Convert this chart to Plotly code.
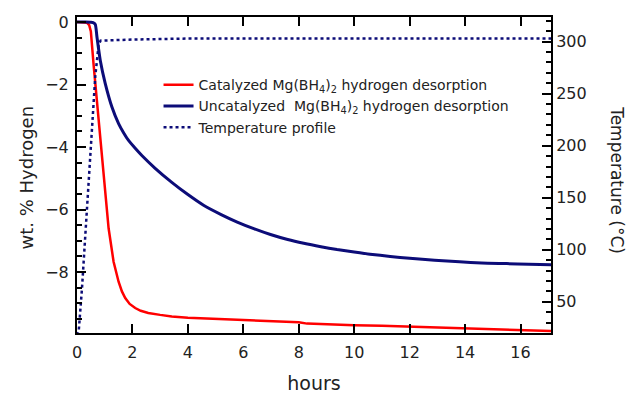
import plotly.graph_objects as go

# Catalyzed Mg(BH4)2 (wt. % H vs hours)
cat_t = [0, 0.2, 0.36, 0.44, 0.50, 0.60, 0.66, 0.72, 0.78, 0.84, 0.96, 1.0, 1.14, 1.32, 1.5, 1.62,
         1.74, 1.9, 2.1, 2.3, 2.57, 3.0, 3.42, 4, 5, 6, 7, 8, 8.3, 9, 10, 11, 12, 13, 14, 15, 16, 17, 17.1]
cat_v = [0, 0, -0.02, -0.1, -0.3, -1.38, -1.95, -2.5, -3.2, -3.83, -4.96, -5.31, -6.6, -7.67, -8.31,
         -8.62, -8.83, -9.02, -9.15, -9.24, -9.31, -9.37, -9.42, -9.46, -9.50, -9.54, -9.58, -9.61,
         -9.65, -9.68, -9.70, -9.72, -9.75, -9.78, -9.82, -9.84, -9.86, -9.89, -9.89]

# Uncatalyzed Mg(BH4)2
unc_t = [0, 0.3, 0.48, 0.58, 0.66, 0.72, 0.84, 1.02, 1.26, 1.5, 1.68, 1.86, 2.1, 2.34, 2.82, 3.42,
         4.0, 4.58, 5.2, 5.78, 6.4, 6.98, 7.6, 8.18, 8.8, 9.38, 10.0, 10.57, 11.3, 12.0, 12.9, 13.8,
         14.6, 15.5, 16.3, 17.1]
unc_v = [0, 0, -0.01, -0.02, -0.08, -0.48, -1.23, -1.97, -2.72, -3.25, -3.54, -3.79, -4.04, -4.27,
         -4.68, -5.13, -5.52, -5.87, -6.16, -6.4, -6.62, -6.8, -6.96, -7.08, -7.19, -7.28, -7.36,
         -7.43, -7.5, -7.56, -7.62, -7.67, -7.71, -7.73, -7.75, -7.77]

# Temperature profile (°C)
temp_t = [0, 0.06, 0.18, 0.30, 0.42, 0.54, 0.66, 0.78, 0.85, 2, 4, 6, 8, 10, 12, 14, 16, 17.1]
temp_v = [18, 21, 63, 117, 171, 219, 267, 297, 301, 302, 303, 303, 303, 303, 303, 303, 303, 303]

x_ticks = [0, 2, 4, 6, 8, 10, 12, 14, 16]
y_ticks = [0, -2, -4, -6, -8]
y2_ticks = [50, 100, 150, 200, 250, 300]

RED = "#ff0000"
NAVY = "#0c0c78"
FONT = "DejaVu Sans, Arial, sans-serif"
TXT = "#222"

fig = go.Figure()
fig.add_trace(go.Scatter(
    x=cat_t, y=cat_v, mode="lines", line=dict(color=RED, width=2.5),
    name="Catalyzed Mg(BH<sub>4</sub>)<sub>2</sub> hydrogen desorption"))
fig.add_trace(go.Scatter(
    x=unc_t, y=unc_v, mode="lines", line=dict(color=NAVY, width=3, shape="spline", smoothing=0.6),
    name="Uncatalyzed&nbsp; Mg(BH<sub>4</sub>)<sub>2</sub> hydrogen desorption"))
fig.add_trace(go.Scatter(
    x=temp_t, y=temp_v, mode="lines", yaxis="y2", line=dict(color=NAVY, width=2.5, dash="dot"),
    name="Temperature profile"))

axis_common = dict(showline=True, linecolor="black", linewidth=2, ticks="inside",
                   tickcolor="black", tickwidth=1.5, ticklen=9, showgrid=False, zeroline=False,
                   automargin=False, tickfont=dict(family=FONT, size=16, color=TXT))

fig.update_layout(
    width=629, height=394,
    margin=dict(l=77, r=78, t=17, b=61),
    paper_bgcolor="white", plot_bgcolor="white",
    font=dict(family=FONT, color=TXT),
    xaxis=dict(range=[0, 17.1], tickvals=x_ticks, mirror="ticks", ticklabelstandoff=4,
               title=dict(text="hours", font=dict(family=FONT, size=19, color=TXT)),
               **axis_common),
    yaxis=dict(range=[-9.95, 0.16], tickvals=y_ticks, ticklabelstandoff=3,
               minor=dict(dtick=0.5, ticks="inside", ticklen=5, tickcolor="black", tickwidth=1.5),
               **axis_common),
    yaxis2=dict(range=[20, 323.7], tickvals=y2_ticks, overlaying="y", side="right",
                minor=dict(dtick=10, ticks="inside", ticklen=5, tickcolor="black", tickwidth=1.5),
                **axis_common),
    legend=dict(x=0.172, y=0.835, xanchor="left", yanchor="top", bgcolor="rgba(0,0,0,0)",
                font=dict(family=FONT, size=14, color=TXT), itemwidth=30, tracegroupgap=0),
    showlegend=True,
    annotations=[
        dict(text="wt. % Hydrogen", xref="paper", yref="paper",
             x=-0.1055, y=0.492, xanchor="center", yanchor="middle", textangle=-90,
             showarrow=False, font=dict(family=FONT, size=18, color=TXT)),
        dict(text="Temperature (°C)", xref="paper", yref="paper",
             x=1.139, y=0.484, xanchor="center", yanchor="middle", textangle=90,
             showarrow=False, font=dict(family=FONT, size=17, color=TXT)),
    ],
)

fig.write_html("out.html")
